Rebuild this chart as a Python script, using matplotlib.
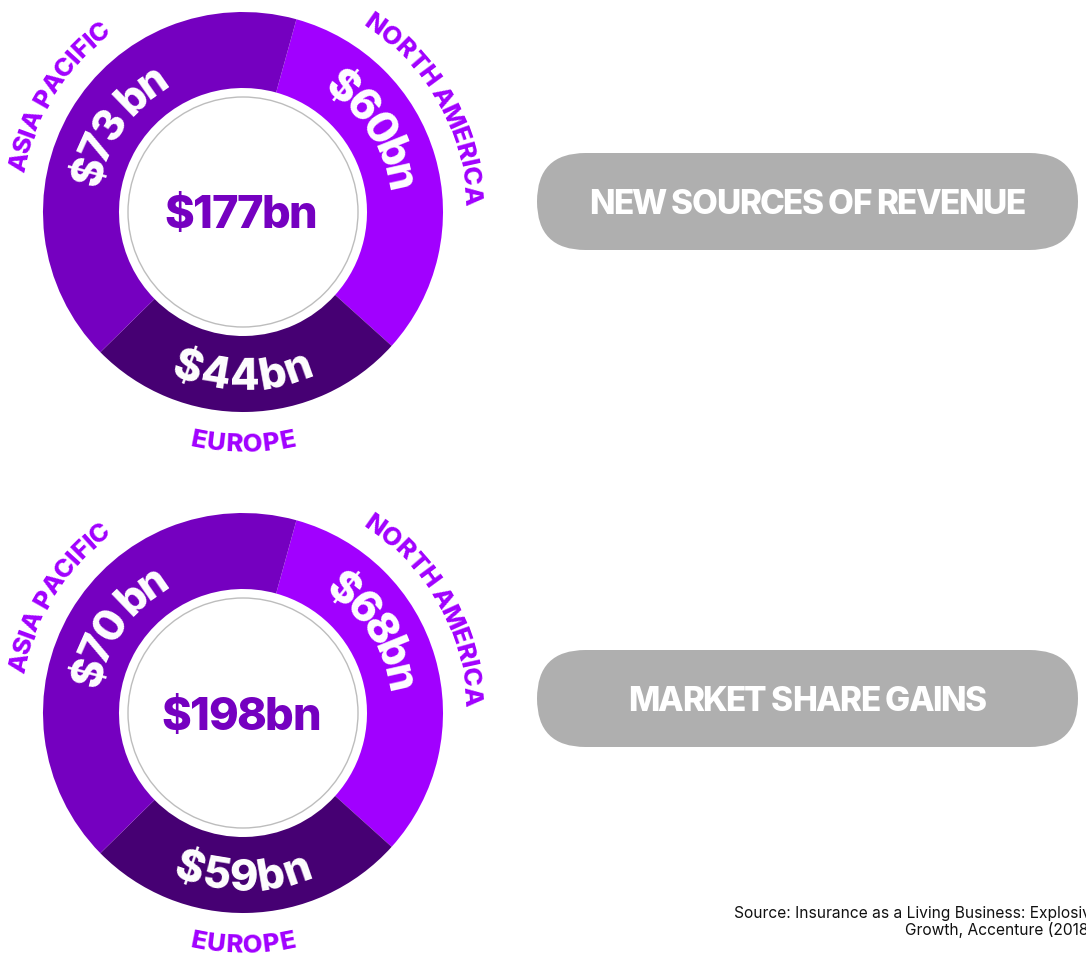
import matplotlib
matplotlib.use('Agg')
import numpy as np
import matplotlib.pyplot as plt
from matplotlib import font_manager
from matplotlib.ft2font import FT2Font
from matplotlib.patches import FancyBboxPatch, Circle

# data
regions = ['NORTH AMERICA', 'EUROPE', 'ASIA PACIFIC']
arc_share = [116.5, 93.5, 150.0]   # segment sizes in degrees (same drawing in both rings)
seg_colors = ['#A100FF', '#460073', '#7500C0']
top_values = ['$60bn', '$44bn', '$73 bn']
top_total = '$177bn'
bottom_values = ['$68bn', '$59bn', '$70 bn']
bottom_total = '$198bn'
pill_labels = ['NEW SOURCES OF REVENUE', 'MARKET SHARE GAINS']
source_lines = ['Source: Insurance as a Living Business: Explosive', 'Growth, Accenture (2018)']

W, H = 1086, 957


def Y(y):
    return H - y


def pick_font(families, weight):
    for fam in families:
        try:
            return font_manager.findfont(font_manager.FontProperties(family=fam, weight=weight),
                                         fallback_to_default=False)
        except Exception:
            continue
    return font_manager.findfont('DejaVu Sans')


BOLD = pick_font(['Inter', 'Roboto', 'Lato'], 800)
REG = pick_font(['Inter', 'Roboto'], 'normal')


def advances(s, path, size):
    f = FT2Font(path)
    f.set_size(size, 100)
    out = []
    for ch in s:
        g = f.load_char(ord(ch))
        out.append(g.linearHoriAdvance / 65536)
    return out


def cap_height(path, size):
    f = FT2Font(path)
    f.set_size(size, 100)
    g = f.load_char(ord('H'))
    return g.height / 64


def arc_text(ax, s, cx, cy, r, mid, clockwise, size, color, path, track=0.0):
    # one glyph at a time along a circle, centred on angle `mid`
    fp = font_manager.FontProperties(fname=path, size=size)
    adv = advances(s, path, size)
    cap = cap_height(path, size)
    total = sum(adv) + track * (len(s) - 1)
    ext = np.degrees(total / r)
    pos = 0
    for ch, a in zip(s, adv):
        c = pos + a / 2
        pos += a + track
        if clockwise:
            ang = mid + ext / 2 - np.degrees(c / r)
            rb = r - cap / 2
            rot = ang - 90
        else:
            ang = mid - ext / 2 + np.degrees(c / r)
            rb = r + cap / 2
            rot = ang + 90
        if ch == ' ':
            continue
        t = np.radians(ang)
        ax.text(cx + rb * np.cos(t), cy + rb * np.sin(t), ch, rotation=rot,
                rotation_mode='anchor', ha='center', va='baseline',
                fontproperties=fp, color=color)


def line_text(ax, s, cx, cy, size, color, path, track=0.0):
    # straight text with tighter letter spacing
    fp = font_manager.FontProperties(fname=path, size=size)
    adv = advances(s, path, size)
    cap = cap_height(path, size)
    total = sum(adv) + track * (len(s) - 1)
    x = cx - total / 2
    for ch, a in zip(s, adv):
        if ch != ' ':
            ax.text(x + a / 2, cy - cap / 2, ch, ha='center', va='baseline',
                    fontproperties=fp, color=color)
        x += a + track


fig = plt.figure(figsize=(W / 100, H / 100), dpi=100)
ax = fig.add_axes([0, 0, 1, 1])

value_mid = [32, -90, 145]
region_mid = [29.5, -90, 148]
clockwise = [True, False, True]

for cy_px, vals, total, pill, pill_y in [(212, top_values, top_total, pill_labels[0], 201.5),
                                          (713, bottom_values, bottom_total, pill_labels[1], 698.5)]:
    cx, cy = 243, Y(cy_px)
    ax.pie(arc_share, colors=seg_colors, startangle=74.5, counterclock=False,
           radius=200, center=(cx, cy), wedgeprops=dict(width=76, linewidth=0))
    ax.add_patch(Circle((cx, cy), 115, fill=False, ec='#BDBDBD', lw=1))
    line_text(ax, total, cx - 2, cy, 32.5, '#7500C0', BOLD, track=-1.5)
    for v, reg, vm, rm, cw in zip(vals, regions, value_mid, region_mid, clockwise):
        arc_text(ax, v, cx, cy, 162, vm, cw, 31, 'white', BOLD, track=-1)
        arc_text(ax, reg, cx, cy, 231, rm, cw, 18.5, '#A100FF', BOLD, track=0.2)
    ax.add_patch(FancyBboxPatch((537, Y(pill_y) - 48.5), 541, 97,
                                boxstyle='round,pad=0,rounding_size=48.5',
                                fc='#AFAFAF', ec='none'))
    line_text(ax, pill, 807, Y(pill_y), 24, 'white', BOLD, track=-1.5)

# source note runs past the right edge, as in the original
fp_reg = font_manager.FontProperties(fname=REG, size=11.2)
ax.text(734, Y(918), source_lines[0], ha='left', va='baseline', fontproperties=fp_reg, color='#111111')
ax.text(905, Y(935), source_lines[1], ha='left', va='baseline', fontproperties=fp_reg, color='#111111')

ax.set_xlim(0, W)
ax.set_ylim(0, H)
ax.axis('off')
fig.savefig('out.png', dpi=100)
